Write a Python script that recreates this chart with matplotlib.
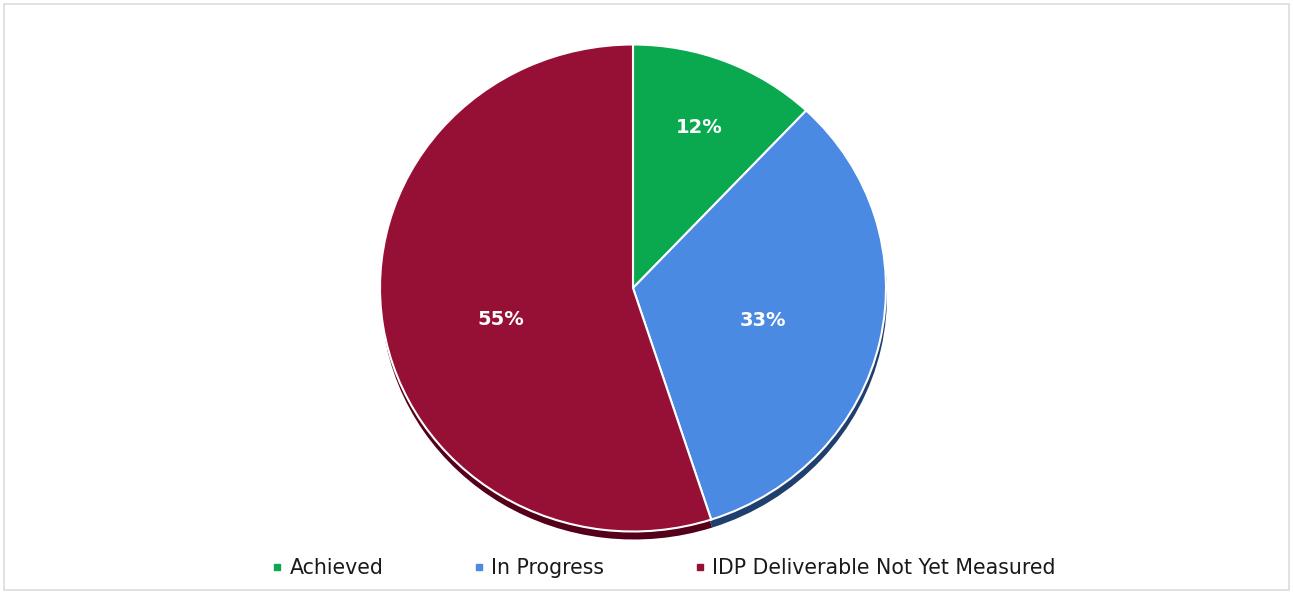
import matplotlib
matplotlib.use("Agg")
import matplotlib.pyplot as plt
import matplotlib.patches as mpatches
from matplotlib.lines import Line2D
import numpy as np

categories = ["Achieved", "In Progress", "IDP Deliverable Not Yet Measured"]
values = [12, 33, 55]
labels_pct = ["12%", "33%", "55%"]
colors = ["#0aa84f", "#4a8ae3", "#960f35"]
shadow_colors = ["#055a2a", "#1f3f6e", "#55001a"]
label_dist = [0.71, 0.53, 0.54]
label_angle_shift = [0.0, -2.0, 5.0]

W, H = 1293, 592
fig = plt.figure(figsize=(W / 100, H / 100), dpi=100)
fig.patch.set_facecolor("white")

# border
fig.add_artist(mpatches.Rectangle((4 / W, 2 / H), (W - 8) / W, (H - 6) / H,
                                  transform=fig.transFigure, fill=False,
                                  edgecolor="#dcdcdc", linewidth=1.2))

cx, cy = 633, H - 288
rx, ry = 253, 243.5
ax = fig.add_axes([(cx - rx) / W, (cy - ry) / H, 2 * rx / W, 2 * ry / H])

# shadow
ax.pie(values, colors=shadow_colors, startangle=90, counterclock=False,
       center=(1 / rx, -8 / ry), radius=1.0,
       wedgeprops=dict(linewidth=0))
wedges, _ = ax.pie(values, colors=colors, startangle=90, counterclock=False,
                   radius=1.0,
                   wedgeprops=dict(edgecolor="white", linewidth=1.5))

for w, lab, d, s in zip(wedges, labels_pct, label_dist, label_angle_shift):
    ang = np.deg2rad((w.theta1 + w.theta2) / 2 + s)
    ax.text(d * np.cos(ang), d * np.sin(ang), lab, ha="center", va="center",
            color="white", fontsize=14, fontweight="bold", family="DejaVu Sans")

ax.set_aspect("auto")
ax.set_xlim(-1, 1)
ax.set_ylim(-1, 1)
ax.axis("off")

handles = [Line2D([0], [0], marker="s", linestyle="none", markersize=5,
                  markerfacecolor=c, markeredgecolor=c) for c in colors]
fig.legend(handles, categories, loc="center", bbox_to_anchor=(663 / W, 1 - 568 / H),
           ncol=3, frameon=False, fontsize=14.8, handletextpad=0.25,
           columnspacing=4.3, handlelength=0.7, labelcolor="#1a1a1a")

fig.savefig("out.png", dpi=100, facecolor="white")
